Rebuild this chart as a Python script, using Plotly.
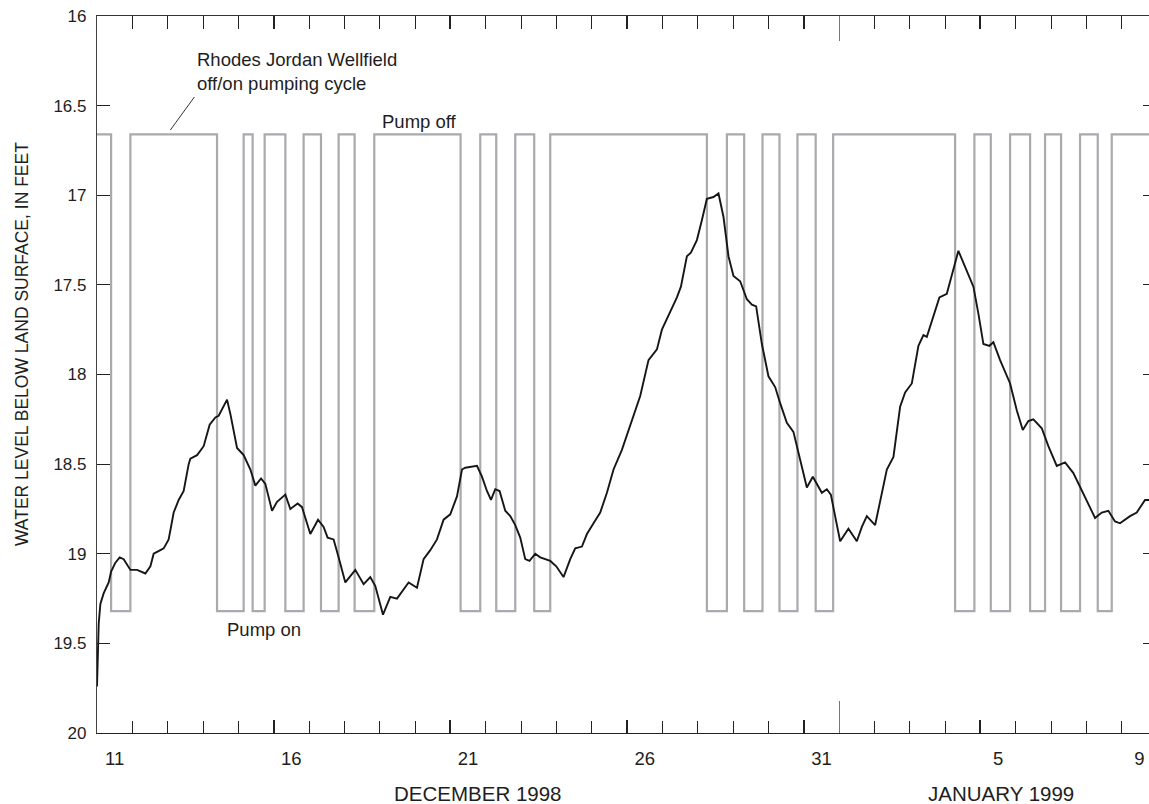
import pandas as pd
import plotly.graph_objects as go

# ---------------- data ----------------
START_DATE = "1998-12-11"          # day 0 = 11 December 1998, 00:00
END_DAY = 29.77                    # right edge of the visible record (days after start)

# Water level below land surface (feet) -- days after start, value
level_days = [0.0, 0.048, 0.096, 0.190, 0.331, 0.399, 0.521, 0.642, 0.755, 0.945,
              1.134, 1.369, 1.511, 1.604, 1.794, 1.887, 2.028, 2.170, 2.311, 2.453,
              2.594, 2.642, 2.832, 3.018, 3.188, 3.349, 3.443, 3.584, 3.680, 3.774,
              3.963, 4.150, 4.340, 4.481, 4.642, 4.764, 4.953, 5.095, 5.330, 5.471,
              5.678, 5.802, 6.037, 6.255, 6.413, 6.526, 6.696, 6.837, 7.027, 7.310,
              7.545, 7.734, 7.876, 8.093, 8.300, 8.489, 8.818, 9.055, 9.242, 9.431,
              9.621, 9.808, 9.997, 10.187, 10.328, 10.422, 10.753, 10.894, 11.035, 11.149,
              11.270, 11.392, 11.553, 11.695, 11.836, 11.977, 12.119, 12.240, 12.402, 12.543,
              12.826, 12.996, 13.202, 13.392, 13.533, 13.723, 13.864, 14.051, 14.240, 14.430,
              14.617, 14.854, 15.089, 15.372, 15.607, 15.845, 15.986, 16.221, 16.411, 16.524,
              16.693, 16.806, 16.976, 17.117, 17.259, 17.445, 17.587, 17.728, 17.870, 18.011,
              18.201, 18.390, 18.532, 18.653, 18.815, 19.001, 19.191, 19.332, 19.522, 19.708,
              19.946, 20.088, 20.257, 20.512, 20.653, 20.767, 20.888, 21.030, 21.264, 21.502,
              21.644, 21.785, 22.020, 22.161, 22.351, 22.538, 22.727, 22.869, 23.058, 23.245,
              23.387, 23.483, 23.670, 23.839, 24.048, 24.190, 24.376, 24.566, 24.801, 24.942,
              25.084, 25.253, 25.366, 25.556, 25.839, 26.028, 26.198, 26.356, 26.498, 26.735,
              26.922, 27.160, 27.395, 27.630, 27.867, 28.102, 28.243, 28.433, 28.620, 28.809,
              28.950, 29.233, 29.423, 29.658, 29.771]
level_ft = [19.74, 19.39, 19.28, 19.22, 19.16, 19.10, 19.05, 19.02, 19.03, 19.09,
            19.09, 19.11, 19.07, 19.00, 18.98, 18.97, 18.92, 18.77, 18.70, 18.65,
            18.50, 18.47, 18.45, 18.40, 18.28, 18.24, 18.23, 18.18, 18.14, 18.22,
            18.41, 18.45, 18.53, 18.62, 18.58, 18.61, 18.76, 18.71, 18.67, 18.75,
            18.72, 18.74, 18.89, 18.81, 18.85, 18.91, 18.92, 19.02, 19.16, 19.09,
            19.17, 19.13, 19.18, 19.34, 19.24, 19.25, 19.16, 19.19, 19.03, 18.98,
            18.92, 18.81, 18.78, 18.68, 18.53, 18.52, 18.51, 18.57, 18.65, 18.70,
            18.64, 18.65, 18.76, 18.79, 18.84, 18.91, 19.03, 19.04, 19.00, 19.02,
            19.04, 19.07, 19.13, 19.03, 18.97, 18.96, 18.89, 18.83, 18.77, 18.66,
            18.53, 18.42, 18.28, 18.12, 17.92, 17.86, 17.75, 17.65, 17.57, 17.51,
            17.34, 17.32, 17.25, 17.14, 17.02, 17.01, 16.99, 17.12, 17.34, 17.45,
            17.48, 17.58, 17.61, 17.62, 17.83, 18.01, 18.07, 18.16, 18.27, 18.32,
            18.51, 18.63, 18.57, 18.66, 18.64, 18.67, 18.79, 18.93, 18.86, 18.93,
            18.85, 18.79, 18.84, 18.70, 18.53, 18.46, 18.18, 18.10, 18.05, 17.84,
            17.78, 17.79, 17.68, 17.57, 17.55, 17.45, 17.31, 17.40, 17.51, 17.66,
            17.83, 17.84, 17.82, 17.92, 18.05, 18.20, 18.31, 18.26, 18.25, 18.30,
            18.40, 18.51, 18.49, 18.55, 18.65, 18.75, 18.80, 18.77, 18.76, 18.82,
            18.83, 18.79, 18.77, 18.70, 18.70]

# Rhodes Jordan Wellfield off/on pumping cycle (schematic)
pump_days = [0.0, 0.399, 0.945, 3.397, 4.150, 4.404, 4.744, 5.330, 5.847, 6.339,
             6.837, 7.290, 7.847, 10.289, 10.846, 11.298, 11.836, 12.373, 12.826, 17.259,
             17.825, 18.314, 18.832, 19.313, 19.822, 20.337, 20.832, 24.283, 24.829, 25.293,
             25.839, 26.405, 26.829, 27.282, 27.819, 28.320, 28.716, 30.0]
pump_state = ["off", "on", "off", "on", "off", "on", "off", "on", "off", "on",
              "off", "on", "off", "on", "off", "on", "off", "on", "off", "on",
              "off", "on", "off", "on", "off", "on", "off", "on", "off", "on",
              "off", "on", "off", "on", "off", "on", "off", "off"]
PUMP_LEVEL = {"off": 16.66, "on": 19.32}

y_ticks = [16, 16.5, 17, 17.5, 18, 18.5, 19, 19.5, 20]
x_label_days = [0, 5, 10, 15, 20, 25, 29]
x_label_text = ["11", "16", "21", "26", "31", "5", "9"]
major_tick_days = [5, 10, 15, 20, 25]
year_tick_day = 21

# ---------------- helpers ----------------
base = pd.Timestamp(START_DATE)


def dt(d):
    return base + pd.Timedelta(days=float(d))


def dts(ds):
    return [dt(d) for d in ds]


FONT = "Liberation Sans, Arial, Helvetica, sans-serif"
TXT = "#1e1e1e"
x_range = [dt(0), dt(END_DAY)]
all_days = list(range(1, 30))

fig = go.Figure()
fig.add_trace(go.Scatter(
    x=dts(pump_days), y=[PUMP_LEVEL[s] for s in pump_state],
    mode="lines", line=dict(color="#a9a9ae", width=2.2, shape="hv"),
    hoverinfo="skip", showlegend=False))
fig.add_trace(go.Scatter(
    x=dts(level_days), y=level_ft,
    mode="lines", line=dict(color="#161616", width=1.9),
    showlegend=False))

# empty traces so that every overlaid tick axis gets drawn
for xa, ya in [("x2", "y"), ("x3", "y"), ("x4", "y"), ("x5", "y"),
               ("x6", "y"), ("x7", "y"), ("x", "y2")]:
    fig.add_trace(go.Scatter(x=[], y=[], xaxis=xa, yaxis=ya, mode="lines",
                             showlegend=False, hoverinfo="skip"))

common_x = dict(type="date", range=x_range, showgrid=False, zeroline=False,
                automargin=False, fixedrange=True)

layout_axes = dict(
    xaxis=dict(**common_x, showline=True, linecolor="#222", linewidth=1.2,
               ticks="inside", tickvals=dts(all_days), ticklen=12, tickwidth=1,
               tickcolor="#222", showticklabels=False),
    xaxis2=dict(**common_x, overlaying="x", anchor="y", side="bottom",
                showline=False, ticks="inside", tickvals=dts(major_tick_days),
                ticklen=13, tickwidth=2, tickcolor="#222", showticklabels=False),
    xaxis3=dict(**common_x, overlaying="x", anchor="y", side="bottom",
                showline=False, ticks="", tickvals=dts([d + 0.5 for d in x_label_days]),
                ticktext=x_label_text, showticklabels=True, ticklabelstandoff=12,
                tickfont=dict(family=FONT, size=18.5, color=TXT)),
    xaxis4=dict(**common_x, overlaying="x", anchor="y", side="bottom",
                showline=False, ticks="inside", tickvals=[dt(year_tick_day)],
                ticklen=32, tickwidth=1, tickcolor="#777", showticklabels=False),
    xaxis5=dict(**common_x, overlaying="x", anchor="y", side="top",
                showline=True, linecolor="#333", linewidth=1.2,
                ticks="inside", tickvals=dts(all_days), ticklen=13, tickwidth=1,
                tickcolor="#222", showticklabels=False),
    xaxis6=dict(**common_x, overlaying="x", anchor="y", side="top",
                showline=False, ticks="inside", tickvals=dts(major_tick_days),
                ticklen=13, tickwidth=2, tickcolor="#222", showticklabels=False),
    xaxis7=dict(**common_x, overlaying="x", anchor="y", side="top",
                showline=False, ticks="inside", tickvals=[dt(year_tick_day)],
                ticklen=25, tickwidth=1, tickcolor="#777", showticklabels=False),
    yaxis=dict(range=[20, 16], showgrid=False, zeroline=False, automargin=False,
               fixedrange=True, showline=True, linecolor="#444", linewidth=1.2,
               ticks="inside", tickvals=y_ticks, ticktext=[f"{v:g}" for v in y_ticks],
               ticklen=13, tickwidth=1.2, tickcolor="#222", ticklabelstandoff=6,
               tickfont=dict(family=FONT, size=17, color=TXT)),
    yaxis2=dict(range=[20, 16], overlaying="y", anchor="x", side="right",
                showgrid=False, zeroline=False, automargin=False, fixedrange=True,
                showline=False, ticks="inside", tickvals=y_ticks, ticklen=6,
                tickwidth=1.2, tickcolor="#222", showticklabels=False),
)

fig.update_layout(
    width=1149, height=804,
    margin=dict(l=97, r=0, t=16, b=71, pad=0),
    paper_bgcolor="white", plot_bgcolor="white",
    template="none",
    font=dict(family=FONT, color=TXT),
    showlegend=False,
    **layout_axes,
)

ann_font = dict(family=FONT, size=18.5, color=TXT)
fig.add_annotation(x=dt(2.783), y=16.307, xref="x", yref="y",
                   text="Rhodes Jordan Wellfield<br>off/on pumping cycle",
                   showarrow=False, xanchor="left", yanchor="middle", align="left",
                   font=ann_font)
fig.add_annotation(x=dt(8.0), y=16.589, xref="x", yref="y", text="Pump off",
                   showarrow=False, xanchor="left", yanchor="middle", font=ann_font)
fig.add_annotation(x=dt(3.632), y=19.42, xref="x", yref="y", text="Pump on",
                   showarrow=False, xanchor="left", yanchor="middle", font=ann_font)
fig.add_annotation(x=dt(10.76), y=-0.0837, xref="x", yref="paper", text="DECEMBER 1998",
                   showarrow=False, xanchor="center", yanchor="middle",
                   font=dict(family=FONT, size=20.5, color=TXT))
fig.add_annotation(x=dt(25.58), y=-0.0837, xref="x", yref="paper", text="JANUARY 1999",
                   showarrow=False, xanchor="center", yanchor="middle",
                   font=dict(family=FONT, size=20.5, color=TXT))
fig.add_annotation(x=-0.0713, y=0.5425, xref="paper", yref="paper",
                   text="WATER LEVEL BELOW LAND SURFACE, IN FEET", textangle=-90,
                   showarrow=False, xanchor="center", yanchor="middle",
                   font=dict(family=FONT, size=17.5, color=TXT))
# leader line from the label to the pumping-cycle trace
fig.add_shape(type="line", xref="x", yref="y",
              x0=dt(2.076), y0=16.636, x1=dt(2.755), y1=16.452,
              line=dict(color="#333", width=1))

fig.write_html("out.html",
               config={"displayModeBar": False},
               post_script="document.body.style.margin='0';"
                           "document.body.style.overflow='hidden';")
